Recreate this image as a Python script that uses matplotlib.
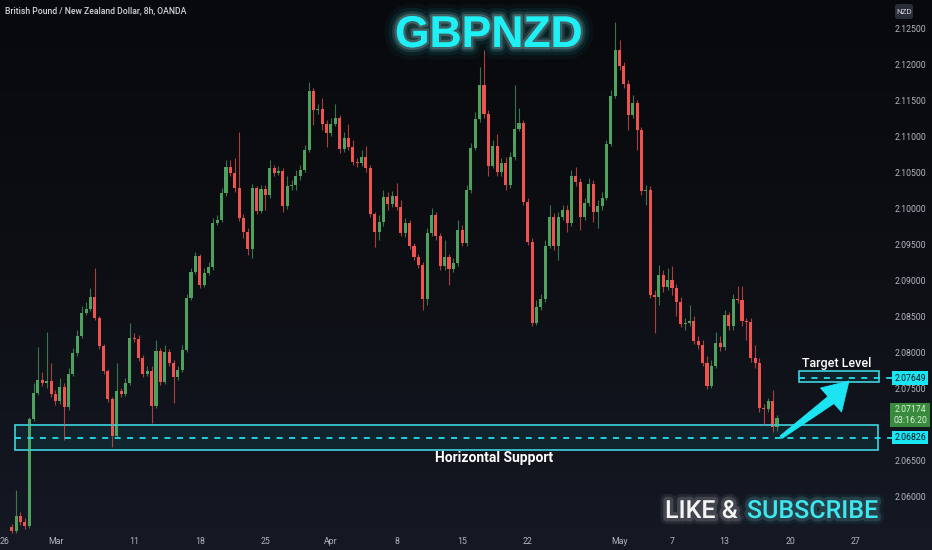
import numpy as np
import matplotlib.pyplot as plt
import matplotlib.patheffects as pe
from matplotlib.colors import LinearSegmentedColormap
from matplotlib.patches import Rectangle, FancyBboxPatch, Polygon

# Datos: velas de 8h GBPNZD (cierre, maximo, minimo); apertura = cierre anterior
primera_apertura = 2.0558
cierres = [2.0553, 2.0574, 2.0565, 2.0560, 2.0708, 2.0745, 2.0763, 2.0758, 2.0761, 2.0743,
           2.0733, 2.0753, 2.0725, 2.0771, 2.0800, 2.0824, 2.0856, 2.0861, 2.0878, 2.0849,
           2.0810, 2.0775, 2.0736, 2.0685, 2.0747, 2.0743, 2.0758, 2.0821, 2.0819, 2.0793,
           2.0771, 2.0775, 2.0726, 2.0803, 2.0760, 2.0801, 2.0786, 2.0767, 2.0776, 2.0804,
           2.0876, 2.0913, 2.0935, 2.0894, 2.0911, 2.0919, 2.0980, 2.0985, 2.1022, 2.1058,
           2.1050, 2.1029, 2.0988, 2.0968, 2.0944, 2.1029, 2.0997, 2.1028, 2.1019, 2.1057,
           2.1050, 2.1053, 2.1004, 2.1032, 2.1033, 2.1046, 2.1054, 2.1082, 2.1164, 2.1138,
           2.1139, 2.1118, 2.1106, 2.1118, 2.1126, 2.1083, 2.1099, 2.1086, 2.1065, 2.1064,
           2.1072, 2.1057, 2.0993, 2.0968, 2.0982, 2.1017, 2.1007, 2.1018, 2.1003, 2.0967,
           2.0980, 2.0949, 2.0933, 2.0922, 2.0875, 2.0967, 2.0992, 2.0963, 2.0921, 2.0933,
           2.0917, 2.0925, 2.0971, 2.0953, 2.1026, 2.1085, 2.1125, 2.1172, 2.1132, 2.1060,
           2.1088, 2.1051, 2.1064, 2.1033, 2.1072, 2.1111, 2.1119, 2.1010, 2.0954, 2.0842,
           2.0864, 2.0875, 2.0949, 2.0989, 2.0949, 2.0989, 2.0999, 2.0980, 2.1046, 2.1038,
           2.0989, 2.1008, 2.1035, 2.0996, 2.1004, 2.1015, 2.1090, 2.1157, 2.1221, 2.1199,
           2.1174, 2.1131, 2.1147, 2.1110, 2.1025, 2.1026, 2.0881, 2.0878, 2.0908, 2.0892,
           2.0901, 2.0890, 2.0871, 2.0840, 2.0842, 2.0845, 2.0817, 2.0811, 2.0786, 2.0754,
           2.0782, 2.0814, 2.0808, 2.0853, 2.0838, 2.0875, 2.0874, 2.0845, 2.0843, 2.0793,
           2.0786, 2.0724, 2.0722, 2.0733, 2.0697, 2.0710]
maximos = [2.0563, 2.0610, 2.0579, 2.0571, 2.0711, 2.0758, 2.0808, 2.0774, 2.0829, 2.0786,
           2.0749, 2.0765, 2.0758, 2.0779, 2.0807, 2.0832, 2.0865, 2.0871, 2.0890, 2.0918,
           2.0851, 2.0813, 2.0778, 2.0739, 2.0786, 2.0751, 2.0765, 2.0842, 2.0828, 2.0825,
           2.0797, 2.0782, 2.0782, 2.0818, 2.0807, 2.0811, 2.0806, 2.0790, 2.0782, 2.0811,
           2.0882, 2.0918, 2.0940, 2.0938, 2.0918, 2.0926, 2.0988, 2.0992, 2.1029, 2.1068,
           2.1068, 2.1071, 2.1107, 2.0993, 2.0974, 2.1035, 2.1032, 2.1033, 2.1033, 2.1068,
           2.1061, 2.1060, 2.1057, 2.1046, 2.1040, 2.1054, 2.1061, 2.1089, 2.1176, 2.1168,
           2.1146, 2.1154, 2.1124, 2.1126, 2.1146, 2.1131, 2.1107, 2.1118, 2.1096, 2.1071,
           2.1082, 2.1088, 2.1061, 2.0996, 2.0992, 2.1026, 2.1024, 2.1025, 2.1036, 2.1013,
           2.0988, 2.0985, 2.0953, 2.0938, 2.0926, 2.0974, 2.1001, 2.0996, 2.0967, 2.0957,
           2.0938, 2.0932, 2.0985, 2.0978, 2.1033, 2.1092, 2.1135, 2.1197, 2.1221, 2.1138,
           2.1096, 2.1104, 2.1071, 2.1072, 2.1079, 2.1172, 2.1140, 2.1124, 2.1015, 2.0960,
           2.0874, 2.0882, 2.0957, 2.1006, 2.0994, 2.0996, 2.1006, 2.1006, 2.1054, 2.1058,
           2.1043, 2.1015, 2.1043, 2.1040, 2.1013, 2.1024, 2.1096, 2.1165, 2.1260, 2.1235,
           2.1204, 2.1179, 2.1158, 2.1151, 2.1114, 2.1033, 2.1032, 2.0887, 2.0922, 2.0915,
           2.0918, 2.0921, 2.0896, 2.0878, 2.0849, 2.0867, 2.0851, 2.0824, 2.0818, 2.0796,
           2.0790, 2.0829, 2.0824, 2.0860, 2.0857, 2.0882, 2.0893, 2.0893, 2.0849, 2.0849,
           2.0811, 2.0793, 2.0729, 2.0738, 2.0749, 2.0714]
minimos = [2.0550, 2.0550, 2.0561, 2.0556, 2.0557, 2.0706, 2.0742, 2.0754, 2.0751, 2.0739,
           2.0728, 2.0729, 2.0679, 2.0721, 2.0768, 2.0796, 2.0821, 2.0853, 2.0858, 2.0846,
           2.0806, 2.0771, 2.0732, 2.0669, 2.0683, 2.0739, 2.0740, 2.0756, 2.0815, 2.0789,
           2.0767, 2.0768, 2.0703, 2.0724, 2.0756, 2.0757, 2.0782, 2.0731, 2.0763, 2.0774,
           2.0801, 2.0874, 2.0910, 2.0890, 2.0892, 2.0908, 2.0915, 2.0978, 2.0982, 2.1018,
           2.1046, 2.1024, 2.0983, 2.0960, 2.0936, 2.0932, 2.0993, 2.0994, 2.0999, 2.1015,
           2.1046, 2.1047, 2.0996, 2.1000, 2.1026, 2.1026, 2.1040, 2.1051, 2.1079, 2.1117,
           2.1132, 2.1110, 2.1086, 2.1101, 2.1115, 2.1078, 2.1079, 2.1082, 2.1061, 2.1058,
           2.1060, 2.1051, 2.0989, 2.0947, 2.0957, 2.0976, 2.0999, 2.1003, 2.0999, 2.0963,
           2.0961, 2.0944, 2.0929, 2.0918, 2.0860, 2.0867, 2.0963, 2.0957, 2.0915, 2.0915,
           2.0894, 2.0913, 2.0921, 2.0949, 2.0949, 2.1022, 2.1082, 2.1121, 2.1126, 2.1046,
           2.1057, 2.1046, 2.1046, 2.1026, 2.1029, 2.1068, 2.1108, 2.1006, 2.0950, 2.0838,
           2.0839, 2.0860, 2.0871, 2.0946, 2.0943, 2.0929, 2.0985, 2.0968, 2.0976, 2.1032,
           2.0971, 2.0985, 2.1004, 2.0982, 2.0974, 2.0999, 2.1013, 2.1087, 2.1154, 2.1193,
           2.1168, 2.1110, 2.1126, 2.1082, 2.1019, 2.1006, 2.0876, 2.0828, 2.0867, 2.0885,
           2.0887, 2.0880, 2.0851, 2.0836, 2.0832, 2.0838, 2.0813, 2.0806, 2.0782, 2.0750,
           2.0751, 2.0779, 2.0803, 2.0804, 2.0832, 2.0832, 2.0869, 2.0838, 2.0818, 2.0787,
           2.0779, 2.0718, 2.0700, 2.0718, 2.0690, 2.0691]

# Eje de tiempo (indice de vela donde cae cada etiqueta)
fechas_etiquetas = ["26", "Mar", "11", "18", "25", "Apr", "8", "15", "22", "May", "7", "13", "20", "27"]
fechas_indices = [-1.6, 10, 28, 43, 58, 73, 88, 103, 118, 139, 151, 163, 178, 193]

# Escala de precios
precios_eje = [2.125, 2.120, 2.115, 2.110, 2.105, 2.100, 2.095, 2.090, 2.085,
               2.080, 2.075, 2.065, 2.060]
soporte = 2.06826
soporte_zona = (2.06653, 2.0700)
objetivo = 2.07649
objetivo_zona = (2.0760, 2.0775)
precio_actual = 2.07174
cuenta_atras = "03:16:20"

VERDE = '#4ea25e'
ROJO = '#ef5350'
CIAN = '#19e6f2'
BORDE = '#3fd3e0'
GRIS_TXT = '#b2b5be'

cierres = np.array(cierres)
aperturas = np.r_[primera_apertura, cierres[:-1]]
maximos = np.maximum(np.array(maximos), np.maximum(aperturas, cierres))
minimos = np.minimum(np.array(minimos), np.minimum(aperturas, cierres))
idx = np.arange(len(cierres))

W, H = 932, 550
fig = plt.figure(figsize=(W / 100, H / 100), dpi=100)

# Fondo degradado
fondo = fig.add_axes([0, 0, 1, 1], zorder=0)
cmap = LinearSegmentedColormap.from_list('fondo', ['#08090c', '#0d0f14', '#151924'])
fondo.imshow(np.linspace(0, 1, 256).reshape(-1, 1), aspect='auto', cmap=cmap,
             extent=[0, 1, 0, 1])
fondo.axis('off')

# Eje de velas
ax = fig.add_axes([0, 0, 1, 1], zorder=1)
ax.patch.set_alpha(0)
ax.axis('off')
ax.set_xlim(-2.68, 210.45)
ax.set_ylim(2.05264, 2.12903)

sube = cierres >= aperturas
colores = np.where(sube, VERDE, ROJO)
cuerpo = np.maximum(np.abs(cierres - aperturas), 0.00007)
base = np.minimum(aperturas, cierres)
ax.vlines(idx, minimos, maximos, colors=colores, lw=0.8, alpha=0.7)
ax.bar(idx, cuerpo, bottom=base, width=0.7, color=colores, lw=0)


def zona(x0, ancho, lim):
    ax.add_patch(Rectangle((x0, lim[0]), ancho, lim[1] - lim[0],
                           facecolor=CIAN, alpha=0.08, edgecolor='none'))
    ax.add_patch(Rectangle((x0, lim[0]), ancho, lim[1] - lim[0],
                           facecolor='none', edgecolor=BORDE, lw=1.2))


# Zona de soporte y zona objetivo
zona(0.75, 197.4, soporte_zona)
ax.hlines(soporte, 0.75, 201.3, color='#22e0ee', lw=1.3, linestyle=(0, (3.3, 3.6)))
zona(180.0, 18.3, objetivo_zona)
ax.hlines(objetivo, 180.0, 201.3, color='#22e0ee', lw=1.3, linestyle=(0, (3.3, 3.6)))

# Escala derecha
ty = ax.get_yaxis_transform()
for p in precios_eje:
    ax.text(0.9764, p, f'{p:.5f}', transform=ty, ha='center', va='center',
            color=GRIS_TXT, fontsize=6.3, family='Roboto')
for p in [objetivo, soporte]:
    ax.text(0.9764, p, f'{p:.5f}', transform=ty, ha='center', va='center',
            color='#0d1a22', fontsize=6.3, family='Roboto',
            bbox=dict(boxstyle='square,pad=0.28', fc=CIAN, ec='none'))
ax.text(0.9764, precio_actual - 0.00035, f'{precio_actual:.5f}\n{cuenta_atras}', transform=ty,
        ha='center', va='center', color='#d8f3d8', fontsize=6.3, family='Roboto',
        linespacing=1.15, bbox=dict(boxstyle='square,pad=0.3', fc='#3a8a3e', ec='none'))

# Eje de tiempo
tx = ax.get_xaxis_transform()
for lab, i in zip(fechas_etiquetas, fechas_indices):
    ax.text(i, 1 - 541 / 550, lab, transform=tx, ha='center', va='center',
            color=GRIS_TXT, fontsize=6.3, family='Roboto')

# Capa de anotaciones en pixeles
ov = fig.add_axes([0, 0, 1, 1], zorder=2)
ov.patch.set_alpha(0)
ov.axis('off')
ov.set_xlim(0, W)
ov.set_ylim(H, 0)

ov.text(5, 13, 'British Pound / New Zealand Dollar, 8h, OANDA', color='#d1d4dc',
        fontsize=6.2, family='Roboto', fontweight='medium', va='baseline')
ov.add_patch(FancyBboxPatch((895, 4), 18, 15, boxstyle='round,pad=0,rounding_size=3',
                            fc='#2a2e39', ec='none'))
ov.text(904, 11.5, 'NZD', color='#d1d4dc', fontsize=5.8, family='Roboto',
        ha='center', va='center')

brillo_cian = [pe.Stroke(linewidth=18, foreground=CIAN, alpha=0.04),
               pe.Stroke(linewidth=12, foreground=CIAN, alpha=0.07),
               pe.Stroke(linewidth=7, foreground='#aefcff', alpha=0.12),
               pe.Stroke(linewidth=3.5, foreground='#d0feff', alpha=0.2),
               pe.Normal()]
brillo_chico = [pe.Stroke(linewidth=9, foreground=CIAN, alpha=0.06),
                pe.Stroke(linewidth=5, foreground='#aefcff', alpha=0.13),
                pe.Normal()]
brillo_blanco = [pe.Stroke(linewidth=9, foreground='white', alpha=0.07),
                 pe.Stroke(linewidth=5, foreground='white', alpha=0.14),
                 pe.Normal()]

ov.text(489, 47, 'GBPNZD', color='#1ff0f5', fontsize=32, fontweight='bold',
        family='Liberation Sans', ha='center', va='baseline', path_effects=brillo_cian)

ov.text(802, 367, 'Target Level', color='white', fontsize=9, fontweight='medium',
        family='Roboto', va='baseline')
ov.text(494, 462, 'Horizontal Support', color='white', fontsize=10, fontweight='bold',
        family='Roboto', ha='center', va='baseline')

# Flecha hacia el objetivo
flecha = [(780, 436), (782, 438.5), (834, 403.5), (841.5, 412), (849, 381),
          (820.5, 388), (828, 396.5)]
ov.add_patch(Polygon(flecha, closed=True, fc='#1de4f2', ec='#1de4f2', lw=0.6))

ov.text(665, 518, 'LIKE &', color='#f4f4f4', fontsize=18, fontweight='medium',
        family='Roboto', va='baseline', path_effects=brillo_blanco)
ov.text(747, 518, 'SUBSCRIBE', color='#3ee6ee', fontsize=18, fontweight='medium',
        family='Roboto', va='baseline', path_effects=brillo_chico)

fig.savefig('out.png', dpi=100, facecolor='#0c0e13')
